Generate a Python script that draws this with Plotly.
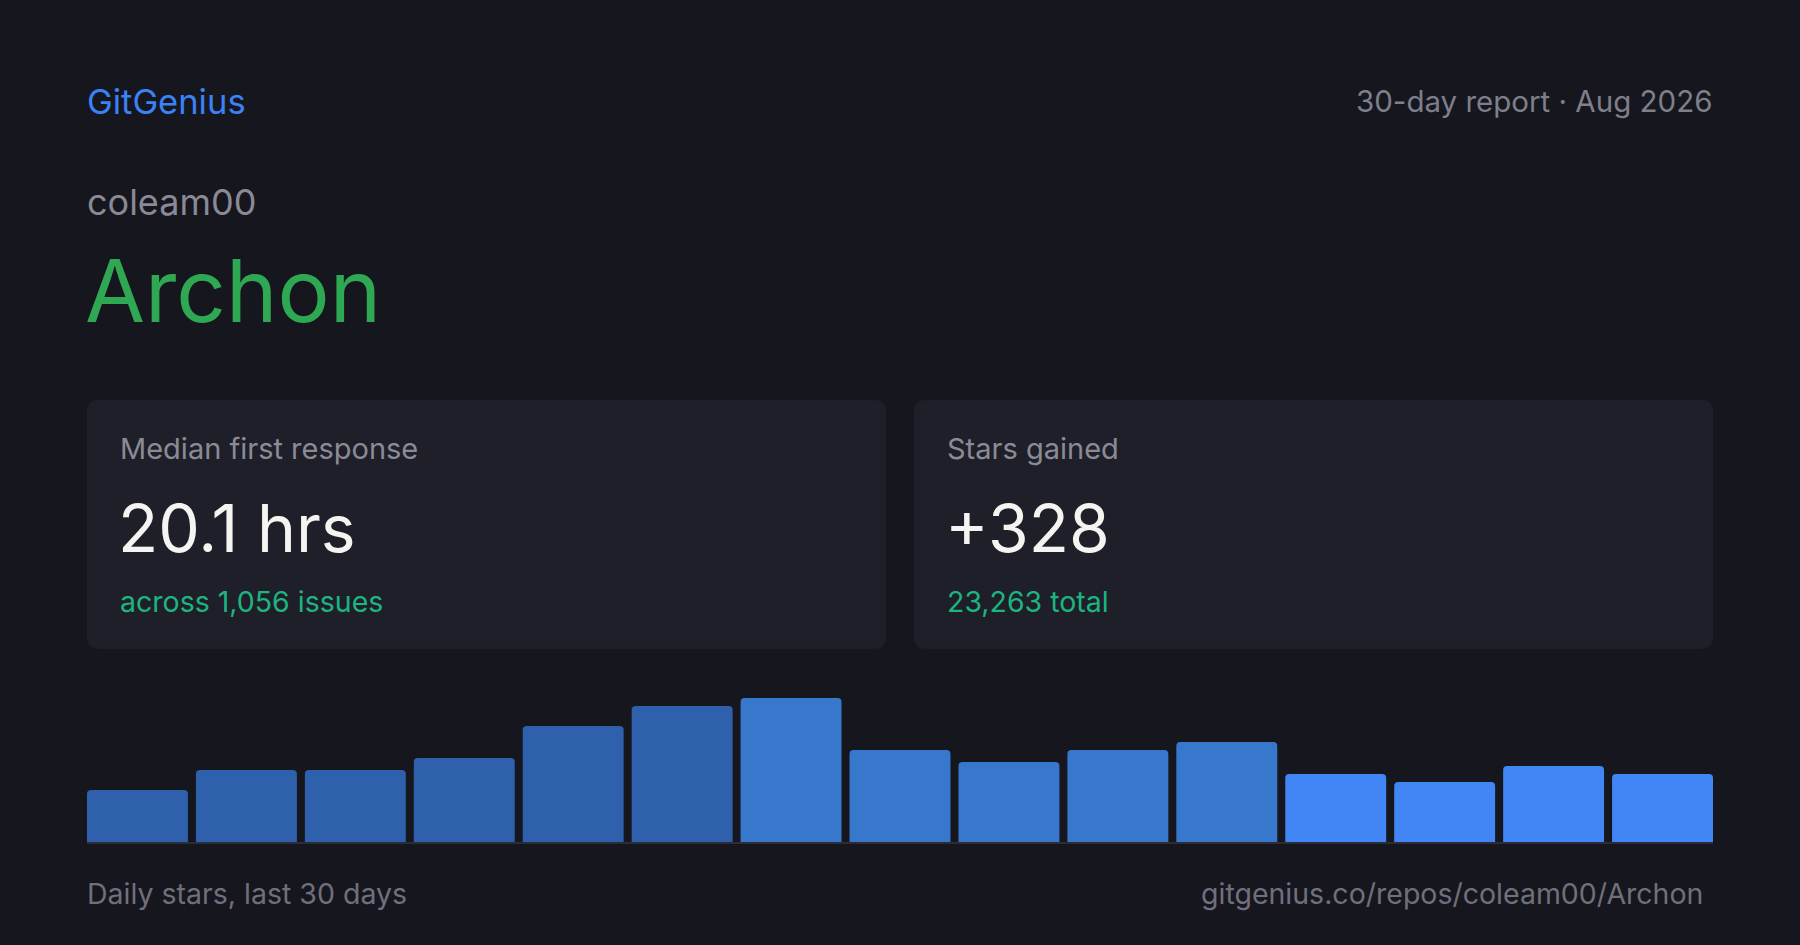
import plotly.graph_objects as go

# ---- data ----
buckets = ["Days 1-2", "Days 3-4", "Days 5-6", "Days 7-8", "Days 9-10",
           "Days 11-12", "Days 13-14", "Days 15-16", "Days 17-18", "Days 19-20",
           "Days 21-22", "Days 23-24", "Days 25-26", "Days 27-28", "Days 29-30"]
daily_stars = [13, 18, 18, 21, 29, 34, 36, 23, 20, 23, 25, 17, 15, 19, 17]

brand = "GitGenius"
report_label = "30-day report · Aug 2026"
owner = "coleam00"
repo = "Archon"
card_titles = ["Median first response", "Stars gained"]
card_values = ["20.1 hrs", "+328"]
card_subs = ["across 1,056 issues", "23,263 total"]
footer_left = "Daily stars, last 30 days"
footer_right = "gitgenius.co/repos/coleam00/Archon"

# ---- style ----
W, H = 1800, 945
BG = "#16161F"
CARD = "#1F1F2A"
FONT = "Inter"
bar_colors = ["#2F60AB"] * 6 + ["#3778CC"] * 5 + ["#4285F4"] * 4
BARGAP = 8 / 109


def px(x):
    return x / W


def py(y):
    return 1 - y / H


def rounded_rect(x0, y0, x1, y1, r):
    rx, ry = r / W, r / H
    X0, X1 = px(x0), px(x1)
    Y0, Y1 = py(y0), py(y1)  # Y0 is top (larger)
    return (f"M {X0+rx},{Y0} L {X1-rx},{Y0} Q {X1},{Y0} {X1},{Y0-ry} "
            f"L {X1},{Y1+ry} Q {X1},{Y1} {X1-rx},{Y1} "
            f"L {X0+rx},{Y1} Q {X0},{Y1} {X0},{Y1+ry} "
            f"L {X0},{Y0-ry} Q {X0},{Y0} {X0+rx},{Y0} Z")


fig = go.Figure()
fig.add_trace(go.Bar(
    x=buckets, y=daily_stars,
    marker=dict(color=bar_colors, line=dict(width=0)),
    hovertemplate="%{x}: %{y} stars<extra></extra>",
))

shapes = []
cards = [(87, 400, 886, 649), (914, 400, 1713, 649)]
for (x0, y0, x1, y1) in cards:
    shapes.append(dict(type="path", xref="paper", yref="paper",
                       path=rounded_rect(x0, y0, x1, y1, 12),
                       fillcolor=CARD, line=dict(width=0), layer="below"))

ann = []


def text(s, x, y, size, color, xanchor="left"):
    ann.append(dict(text=s, x=px(x), y=py(y), xref="paper", yref="paper",
                    xanchor=xanchor, yanchor="middle", showarrow=False,
                    font=dict(family=FONT, size=size, color=color)))


text(brand, 85, 101, 34.5, "#3B82F6")
text(report_label, 1714, 101, 29.5, "#7E7F8A", "right")
text(owner, 85, 202, 36, "#8A8A94")
text(repo, 83, 290, 87, "#2EA853")
for i, (x0, y0, x1, y1) in enumerate(cards):
    text(card_titles[i], x0 + 31, 449, 29, "#8A8B96")
    text(card_values[i], x0 + 29, 528, 66, "#F4F4F0")
    text(card_subs[i], x0 + 31, 601, 28.5, "#1DB57F")
text(footer_left, 85, 893, 28.5, "#6F707B")
text(footer_right, 1705, 893, 28.5, "#6F707B", "right")

half = (1 - BARGAP) / 2
fig.update_layout(
    width=W, height=H,
    margin=dict(l=0, r=0, t=0, b=0),
    paper_bgcolor=BG, plot_bgcolor="rgba(0,0,0,0)",
    showlegend=False,
    bargap=BARGAP,
    barcornerradius=4,
    shapes=shapes, annotations=ann,
    xaxis=dict(domain=[px(87), px(1713)],
               range=[-half, len(buckets) - 1 + half],
               showticklabels=False, showgrid=False, zeroline=False,
               showline=True, linecolor="#2B2C37", linewidth=2, ticks="",
               fixedrange=True),
    yaxis=dict(domain=[py(842), py(698)], range=[0, 36], autorange=False,
               visible=False, showgrid=False, zeroline=False, fixedrange=True),
)

fig.write_html(
    "out.html",
    config={"displayModeBar": False},
    post_script="document.body.style.margin='0';"
                "document.body.style.background='#16161F';"
                "document.body.style.overflow='hidden';",
)
